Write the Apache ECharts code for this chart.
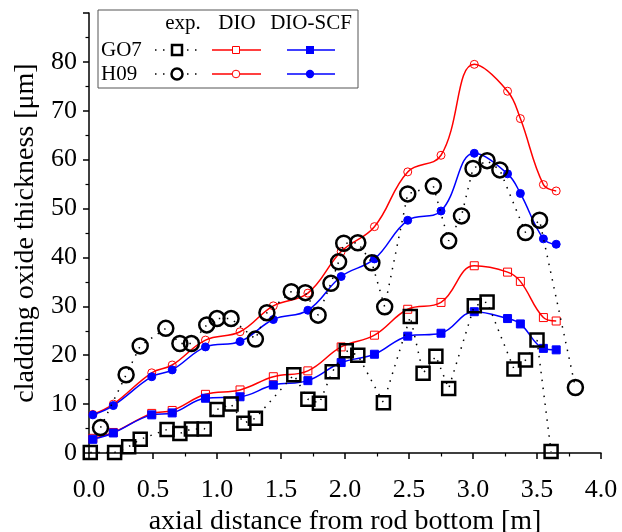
<!DOCTYPE html>
<html>
<head>
<meta charset="utf-8">
<script src="https://cdn.jsdelivr.net/npm/echarts@6/dist/echarts.min.js"></script>
<style>
  html, body { margin: 0; padding: 0; background: #fff; }
  #chart { width: 622px; height: 532px; }
</style>
</head>
<body>
<div id="chart"></div>
<script>
// Axial node positions of the code calculations [m]
const xCalc = [0.03, 0.19, 0.49, 0.65, 0.91, 1.18, 1.44, 1.71, 1.97, 2.23, 2.49, 2.75, 3.01, 3.27, 3.37, 3.55, 3.65];

// Calculated oxide thickness [µm]
const go7DIO    = [3.0, 4.2, 8.1, 8.7, 12.0, 12.9, 15.6, 16.8, 21.7, 24.1, 29.4, 30.8, 38.3, 37.0, 35.1, 27.7, 27.0];
const go7DIOSCF = [2.8, 4.1, 7.8, 8.2, 11.2, 11.5, 13.9, 14.8, 18.5, 20.2, 23.9, 24.5, 28.9, 27.5, 26.4, 21.4, 21.1];
const h09DIO    = [7.9, 10.0, 16.4, 18.0, 23.1, 24.8, 30.1, 32.7, 41.2, 46.3, 57.5, 60.9, 79.5, 74.0, 68.4, 54.9, 53.6];
const h09DIOSCF = [7.8, 9.7, 15.6, 17.0, 21.7, 22.8, 27.3, 29.2, 36.1, 39.7, 47.6, 49.5, 61.3, 57.1, 53.1, 43.8, 42.7];

// Measured oxide thickness, rod GO7
const go7ExpX = [0.01, 0.20, 0.31, 0.40, 0.61, 0.71, 0.80, 0.90, 1.00, 1.11, 1.21, 1.30, 1.60, 1.71, 1.80, 1.90, 2.01, 2.10, 2.30, 2.51, 2.61, 2.71, 2.81, 3.01, 3.11, 3.32, 3.41, 3.50, 3.61];
const go7ExpY = [0.1, 0.1, 1.3, 2.8, 4.8, 4.0, 4.9, 4.9, 8.9, 10.0, 6.1, 7.1, 16.0, 11.0, 10.2, 16.6, 20.9, 20.0, 10.3, 27.9, 16.3, 19.8, 13.2, 30.1, 30.9, 17.2, 19.0, 23.1, 0.3];

// Measured oxide thickness, rod H09
const h09ExpX = [0.09, 0.29, 0.40, 0.60, 0.71, 0.80, 0.92, 1.00, 1.11, 1.30, 1.39, 1.58, 1.69, 1.79, 1.89, 1.95, 1.99, 2.10, 2.21, 2.31, 2.49, 2.69, 2.81, 2.91, 3.00, 3.11, 3.21, 3.41, 3.52, 3.80];
const h09ExpY = [5.2, 16.0, 21.9, 25.5, 22.4, 22.4, 26.2, 27.5, 27.5, 23.3, 28.7, 33.0, 32.8, 28.2, 34.7, 39.1, 42.9, 43.0, 38.9, 29.9, 53.0, 54.6, 43.4, 48.5, 58.2, 59.8, 57.9, 45.1, 47.6, 13.4];

// Axis ticks
const xTicks = { min: 0, max: 4, interval: 0.5 };
const yTicks = { min: 0, max: 90, interval: 10 };

const RED = '#ff0000';
const BLUE = '#0000ff';
const FONT = '"Liberation Serif", "DejaVu Serif", serif';

const pairs = (xs, ys) => xs.map((x, i) => [x, ys[i]]);

function calcSeries(name, ys, color, symbol, filled) {
  return {
    name, type: 'line', data: pairs(xCalc, ys),
    smooth: 0.4, symbol, symbolSize: 8,
    lineStyle: { color, width: 1.5 },
    itemStyle: filled
      ? { color, borderColor: color, borderWidth: 1 }
      : { color: 'rgba(0,0,0,0)', borderColor: color, borderWidth: 1 },
    emphasis: { disabled: true }, z: 3
  };
}

function expSeries(name, xs, ys, symbol, size) {
  return {
    name, type: 'line', data: pairs(xs, ys),
    symbol, symbolSize: size,
    lineStyle: { color: '#000', width: 1.5, type: [1.5, 6.5] },
    itemStyle: { color: 'rgba(0,0,0,0)', borderColor: '#000', borderWidth: 2.5 },
    emphasis: { disabled: true }, z: 4
  };
}

const chart = echarts.init(document.getElementById('chart'), null, { renderer: 'canvas' });

// Legend block drawn as a small table: rows GO7/H09, columns exp./DIO/DIO-SCF
const lg = { x: 98, y: 10, w: 260, h: 78, row1: 50, row2: 74 };
const legendFont = '21px ' + FONT;
const legendElems = [
  { type: 'rect', shape: { x: lg.x, y: lg.y, width: lg.w, height: lg.h },
    style: { fill: '#fff', stroke: '#555', lineWidth: 1 } },
  { type: 'text', x: 183, y: 23, style: { text: 'exp.', font: legendFont, fill: '#000', align: 'center', verticalAlign: 'middle' } },
  { type: 'text', x: 237, y: 23, style: { text: 'DIO', font: legendFont, fill: '#000', align: 'center', verticalAlign: 'middle' } },
  { type: 'text', x: 311, y: 23, style: { text: 'DIO-SCF', font: legendFont, fill: '#000', align: 'center', verticalAlign: 'middle' } },
  { type: 'text', x: 101, y: lg.row1, style: { text: 'GO7', font: legendFont, fill: '#000', align: 'left', verticalAlign: 'middle' } },
  { type: 'text', x: 101, y: lg.row2, style: { text: 'H09', font: legendFont, fill: '#000', align: 'left', verticalAlign: 'middle' } }
];
[lg.row1, lg.row2].forEach((ry, i) => {
  // experimental: dotted black with hollow marker
  legendElems.push({ type: 'line', shape: { x1: 155, y1: ry, x2: 200, y2: ry },
    style: { stroke: '#000', lineWidth: 1.5, lineDash: [1.5, 6.5] } });
  if (i === 0) {
    legendElems.push({ type: 'rect', shape: { x: 172, y: ry - 5, width: 10, height: 10 },
      style: { fill: '#fff', stroke: '#000', lineWidth: 2.5 } });
  } else {
    legendElems.push({ type: 'circle', shape: { cx: 177, cy: ry, r: 5.5 },
      style: { fill: '#fff', stroke: '#000', lineWidth: 2.5 } });
  }
  // DIO: red line with open marker
  legendElems.push({ type: 'line', shape: { x1: 212, y1: ry, x2: 261, y2: ry }, style: { stroke: RED, lineWidth: 1.5 } });
  if (i === 0) {
    legendElems.push({ type: 'rect', shape: { x: 232.5, y: ry - 3.5, width: 7, height: 7 }, style: { fill: '#fff', stroke: RED, lineWidth: 1 } });
  } else {
    legendElems.push({ type: 'circle', shape: { cx: 236, cy: ry, r: 3.8 }, style: { fill: '#fff', stroke: RED, lineWidth: 1 } });
  }
  // DIO-SCF: blue line with filled marker
  legendElems.push({ type: 'line', shape: { x1: 287, y1: ry, x2: 335, y2: ry }, style: { stroke: BLUE, lineWidth: 1.5 } });
  if (i === 0) {
    legendElems.push({ type: 'rect', shape: { x: 306, y: ry - 4, width: 8, height: 8 }, style: { fill: BLUE } });
  } else {
    legendElems.push({ type: 'circle', shape: { cx: 310, cy: ry, r: 4.2 }, style: { fill: BLUE } });
  }
});

chart.setOption({
  animation: false,
  backgroundColor: '#fff',
  textStyle: { fontFamily: FONT },
  grid: { left: 89, right: 21, top: 13, bottom: 79, containLabel: false, outerBoundsMode: 'none' },
  xAxis: {
    type: 'value', min: xTicks.min, max: xTicks.max, interval: xTicks.interval,
    name: 'axial distance from rod bottom [m]', nameLocation: 'middle', nameGap: 55,
    nameTextStyle: { fontSize: 28, fontFamily: FONT, color: '#000' },
    axisLine: { onZero: false, lineStyle: { color: '#000', width: 1.5 } },
    axisTick: { show: true, inside: false, length: 6, lineStyle: { color: '#000', width: 1.5 } },
    minorTick: { show: true, splitNumber: 2, length: 3.5, lineStyle: { color: '#000', width: 1.2 } },
    axisLabel: { fontSize: 26, fontFamily: FONT, color: '#000', margin: 24,
      formatter: v => v.toFixed(1) },
    splitLine: { show: false }
  },
  yAxis: {
    type: 'value', min: yTicks.min, max: yTicks.max, interval: yTicks.interval,
    name: 'cladding oxide thickness [\u03bcm]', nameLocation: 'middle', nameGap: 47,
    nameTextStyle: { fontSize: 28, fontFamily: FONT, color: '#000' },
    axisLine: { show: true, onZero: false, lineStyle: { color: '#000', width: 1.5 } },
    axisTick: { show: true, inside: false, length: 6, lineStyle: { color: '#000', width: 1.5 } },
    minorTick: { show: true, splitNumber: 2, length: 3.5, lineStyle: { color: '#000', width: 1.2 } },
    axisLabel: { fontSize: 26, fontFamily: FONT, color: '#000', margin: 12, showMaxLabel: false },
    splitLine: { show: false }
  },
  series: [
    calcSeries('GO7 DIO', go7DIO, RED, 'rect', false),
    calcSeries('GO7 DIO-SCF', go7DIOSCF, BLUE, 'rect', true),
    calcSeries('H09 DIO', h09DIO, RED, 'circle', false),
    calcSeries('H09 DIO-SCF', h09DIOSCF, BLUE, 'circle', true),
    expSeries('GO7 exp.', go7ExpX, go7ExpY, 'rect', 13),
    expSeries('H09 exp.', h09ExpX, h09ExpY, 'circle', 15)
  ],
  graphic: legendElems
});
</script>
</body>
</html>
